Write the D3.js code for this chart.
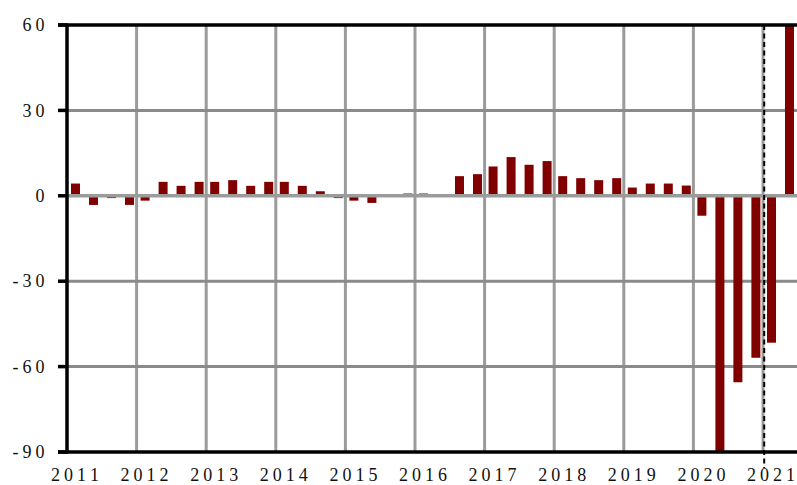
<!DOCTYPE html>
<html>
<head>
<meta charset="utf-8">
<script src="https://cdn.jsdelivr.net/npm/d3@7"></script>
<style>
  html, body { margin: 0; padding: 0; background: #fff; }
  svg { display: block; }
  text { font-family: "Liberation Serif", "Times New Roman", serif; font-size: 18px; fill: #111; }
</style>
</head>
<body>
<svg id="chart" width="797" height="485"></svg>
<script>
// ---- data ----
const years = [2011, 2012, 2013, 2014, 2015, 2016, 2017, 2018, 2019, 2020, 2021];
const quarters = ["Q1","Q2","Q3","Q4"];
// quarterly values, 2011Q1 .. 2021Q2
const values = [
  4.3, -3.2, -0.8, -3.2,
  -1.7, 4.9, 3.5, 4.9,
  4.9, 5.5, 3.5, 4.9,
  4.9, 3.5, 1.6, -0.8,
  -1.7, -2.5, 0, 0.8,
  0.8, 0, 6.9, 7.6,
  10.3, 13.6, 10.9, 12.2,
  6.9, 6.2, 5.5, 6.2,
  2.9, 4.3, 4.3, 3.6,
  -7.0, -92, -65.5, -56.9,
  -51.6, 63
];
const yTicks = [60, 30, 0, -30, -60, -90];
const markerYear = 2021;

// ---- layout ----
const mLeft = 67, mTop = 25, mBottom = 452, mRight = 797;
const svg = d3.select("#chart");

const x = d3.scaleLinear().domain([2011, 2021]).range([mLeft, 763]);
const y = d3.scaleLinear().domain([-90, 60]).range([mBottom, mTop]);

const data = values.map((v, i) => ({
  year: years[0] + Math.floor(i / 4),
  q: i % 4,
  label: (years[0] + Math.floor(i / 4)) + quarters[i % 4],
  value: v
}));
const barCenter = d => x(d.year + 0.122 + d.q * 0.2586);
const barW = 9;

svg.append("defs").append("clipPath").attr("id", "plot")
  .append("rect").attr("x", mLeft).attr("y", mTop).attr("width", mRight - mLeft).attr("height", mBottom - mTop);

// vertical grid
svg.append("g").selectAll("line").data(years.slice(1)).join("line")
  .attr("x1", d => x(d)).attr("x2", d => x(d))
  .attr("y1", mTop).attr("y2", mBottom)
  .attr("stroke", "#9b9b9b").attr("stroke-width", 3);

// horizontal grid
svg.append("g").selectAll("line").data(yTicks.filter(t => t !== 0 && t !== 60 && t !== -90)).join("line")
  .attr("x1", mLeft).attr("x2", mRight)
  .attr("y1", d => y(d)).attr("y2", d => y(d))
  .attr("stroke", "#8a8a8a").attr("stroke-width", 3);

// bars
svg.append("g").attr("clip-path", "url(#plot)")
  .selectAll("rect").data(data.filter(d => d.value !== 0)).join("rect")
  .attr("x", d => barCenter(d) - barW / 2)
  .attr("width", barW)
  .attr("y", d => y(Math.max(0, d.value)))
  .attr("height", d => Math.abs(y(d.value) - y(0)))
  .attr("fill", "#800000");

// zero line
svg.append("line")
  .attr("x1", mLeft).attr("x2", mRight)
  .attr("y1", y(0)).attr("y2", y(0))
  .attr("stroke", "#9b9b9b").attr("stroke-width", 3.5);

// dashed marker
svg.append("line")
  .attr("x1", x(markerYear) + 1.2).attr("x2", x(markerYear) + 1.2)
  .attr("y1", mTop).attr("y2", 468)
  .attr("stroke", "#000").attr("stroke-width", 2)
  .attr("stroke-dasharray", "5,3.5");

// axes frame
const frame = svg.append("g").attr("stroke", "#000").attr("stroke-width", 3.5);
frame.append("line").attr("x1", mLeft).attr("x2", mLeft).attr("y1", mTop - 1.5).attr("y2", mBottom + 1.5);
frame.append("line").attr("x1", 58).attr("x2", mRight).attr("y1", mTop).attr("y2", mTop);
frame.append("line").attr("x1", 58).attr("x2", mRight).attr("y1", mBottom).attr("y2", mBottom);
frame.selectAll("line.tick").data(yTicks).join("line").attr("class", "tick")
  .attr("x1", 58).attr("x2", mLeft).attr("y1", d => y(d)).attr("y2", d => y(d));

// spaced text helper: letter spacing between characters only (no trailing gap)
function spaced(sel) {
  sel.each(function(d) {
    const s = String(d);
    const t = d3.select(this);
    t.append("tspan").style("letter-spacing", "4px").text(s.slice(0, -1));
    t.append("tspan").style("letter-spacing", "0px").text(s.slice(-1));
  });
}

// y labels
svg.append("g").selectAll("text").data(yTicks).join("text")
  .attr("x", 44.5).attr("y", d => y(d)).attr("dy", "0.34em")
  .attr("text-anchor", "end")
  .call(spaced);

// x labels
svg.append("g").selectAll("text").data(years).join("text")
  .attr("x", d => x(d + 0.115)).attr("y", 480.5)
  .attr("text-anchor", "middle")
  .call(spaced);
</script>
</body>
</html>
